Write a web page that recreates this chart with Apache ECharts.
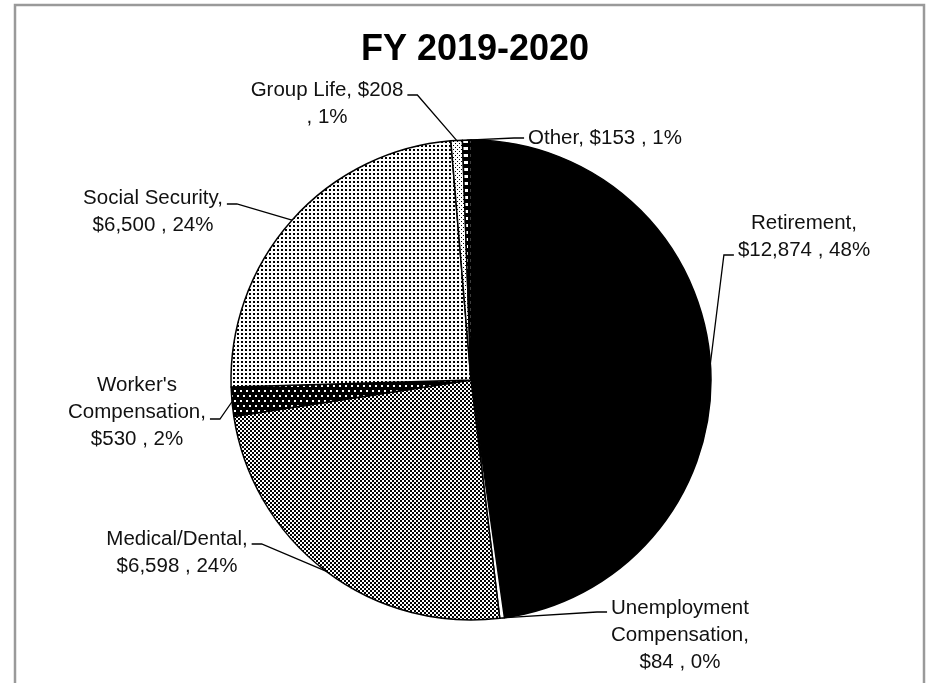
<!DOCTYPE html>
<html><head><meta charset="utf-8">
<script src="https://cdn.jsdelivr.net/npm/echarts@6/dist/echarts.min.js"></script>
<style>html,body{margin:0;padding:0;background:#fff}#c{width:928px;height:683px}</style>
</head><body><div id="c"></div>
<script>
// ---- data ----
const titleText = 'FY 2019-2020';
const categories = ['Retirement', 'Unemployment Compensation', 'Medical/Dental', "Worker's Compensation", 'Social Security', 'Group Life', 'Other'];
const values = [12874, 84, 6598, 530, 6500, 208, 153];

// ---- label text layout (where lines break) ----
const labelTemplates = [
  '{n},\n{v} , {p}',
  '{n*},\n{v} , {p}',
  '{n},\n{v} , {p}',
  '{n*},\n{v} , {p}',
  '{n},\n{v} , {p}',
  '{n}, {v}\n, {p}',
  '{n}, {v} , {p}'
];
// label block centres and leader attach side / height (layout only)
const labelCenters = [[804, 237], [680, 635], [177, 553], [137, 412], [153, 212], [327, 104], [605, 138]];
const labelAttach = [['left', 255], ['left', 612], ['right', 544], ['right', 419], ['right', 204], ['right', 95], ['left', 138]];

function pattern(w, h, bg, fg, rects) {
  const c = document.createElement('canvas');
  c.width = w; c.height = h;
  const g = c.getContext('2d');
  g.fillStyle = bg; g.fillRect(0, 0, w, h);
  g.fillStyle = fg;
  rects.forEach(r => g.fillRect(r[0], r[1], r[2], r[3]));
  return { image: c, repeat: 'repeat' };
}
const fills = [
  '#000000',
  '#ffffff',
  pattern(4, 4, '#ffffff', '#000000', [[0, 0, 2, 2], [2, 2, 2, 2]]),
  pattern(6, 10, '#000000', '#ffffff', [[0, 0, 2, 2], [3, 5, 2, 2]]),
  pattern(4, 4, '#ffffff', '#000000', [[1, 1, 2, 2]]),
  pattern(4, 4, '#ffffff', '#000000', [[1, 1, 1, 1], [3, 3, 1, 1]]),
  pattern(7, 7, '#000000', '#ffffff', [[1, 0, 5, 3]])
];

function fmtMoney(v) { return '$' + v.toLocaleString('en-US'); }

const chart = echarts.init(document.getElementById('c'), null, { renderer: 'canvas' });
chart.setOption({
  animation: false,
  backgroundColor: '#ffffff',
  title: {
    text: titleText,
    left: 470,
    textAlign: 'center',
    top: 27,
    textStyle: { fontFamily: 'Liberation Sans', fontWeight: 'bold', fontSize: 36, color: '#000' }
  },
  graphic: [{
    type: 'rect', z: -10,
    shape: { x: 15, y: 5, width: 909, height: 720 },
    style: { fill: 'none', stroke: '#9a9a9a', lineWidth: 2.5 }
  }],
  series: [{
    type: 'pie',
    center: [471, 380],
    radius: 240,
    startAngle: 90,
    clockwise: true,
    avoidLabelOverlap: false,
    emphasis: { disabled: true },
    itemStyle: { borderColor: '#000', borderWidth: 1.5 },
    label: {
      show: true,
      position: 'outside',
      fontFamily: 'Liberation Sans',
      fontSize: 20.5,
      lineHeight: 27,
      color: '#111',
      overflow: 'none',
      formatter: function (p) {
        const t = labelTemplates[p.dataIndex];
        return t.replace('{n*}', p.name.replace(' ', '\n'))
          .replace('{n}', p.name)
          .replace('{v}', fmtMoney(p.value))
          .replace('{p}', Math.round(p.percent) + '%');
      }
    },
    labelLine: { show: true, length: 10, length2: 10, smooth: false, lineStyle: { color: '#000', width: 1.3 } },
    labelLayout: function (p) {
      const i = p.dataIndex;
      const c = labelCenters[i];
      const w = p.labelRect.width;
      const side = labelAttach[i][0], ay = labelAttach[i][1];
      const gap = 4, elbow = 10;
      const ax = side === 'left' ? c[0] - w / 2 - gap : c[0] + w / 2 + gap;
      const ex = side === 'left' ? ax - elbow : ax + elbow;
      const start = p.labelLinePoints ? p.labelLinePoints[0] : [ex, ay];
      return { x: c[0], y: c[1], align: 'center', verticalAlign: 'middle', labelLinePoints: [start, [ex, ay], [ax, ay]] };
    },
    data: categories.map((n, i) => ({ name: n, value: values[i], itemStyle: { color: fills[i] } }))
  }]
});
</script>
</body></html>
